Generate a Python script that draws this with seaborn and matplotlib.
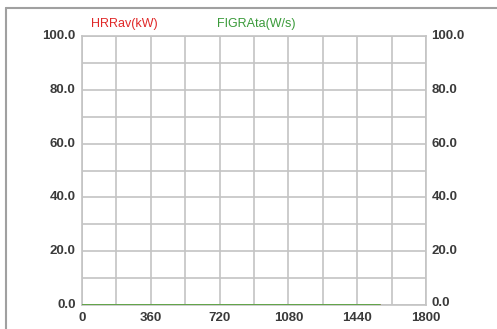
import matplotlib
matplotlib.use("Agg")
import matplotlib.pyplot as plt
import seaborn as sns
import pandas as pd
from matplotlib.lines import Line2D

sns.set_style("white")
plt.rcParams['font.family'] = ['Liberation Sans', 'DejaVu Sans']

# data
time_s = [0, 180, 360, 540, 720, 900, 1080, 1260, 1440, 1560]
hrr_kw = [0, 0, 0, 0, 0, 0, 0, 0, 0, 0]
figra_ws = [0, 0, 0, 0, 0, 0, 0, 0, 0, 0]
x_ticks = [0, 360, 720, 1080, 1440, 1800]
y_ticks = [0, 20, 40, 60, 80, 100]
y_labels = ["0.0", "20.0", "40.0", "60.0", "80.0", "100.0"]

df = pd.DataFrame({"t": time_s, "HRRav(kW)": hrr_kw, "FIGRAta(W/s)": figra_ws})

fig = plt.figure(figsize=(4.97, 3.29), dpi=100)
ax = fig.add_axes([82/497, 1-305/329, (426-82)/497, (305-36)/329])

grid_c = "#c4c4c4"
sns.lineplot(data=df, x="t", y="HRRav(kW)", ax=ax, color="#e02828", lw=1.2, zorder=3)
sns.lineplot(data=df, x="t", y="FIGRAta(W/s)", ax=ax, color="#4cb84c", lw=1.2, zorder=4)

ax.set_xlim(0, 1800)
ax.set_ylim(0, 100)
ax.set_xticks(range(0, 1801, 180), minor=False)
ax.set_yticks(range(0, 101, 10))
ax.grid(True, color=grid_c, lw=1.2)
ax.set_xticklabels([])
ax.set_yticklabels([])
ax.tick_params(length=0)
for s in ax.spines.values():
    s.set_color(grid_c)
    s.set_linewidth(1.2)
ax.set_xlabel("")
ax.set_ylabel("")

lab_c = "#3a3a3a"
fs = 9.5
for v, l in zip(y_ticks, y_labels):
    ax.annotate(l, xy=(0, v), xycoords=("axes fraction", "data"), xytext=(-4.5, 0),
                textcoords="offset points", ha="right", va="center", fontsize=fs,
                fontweight="bold", color=lab_c)
    dy = 1.5 if v == 0 else 0
    ax.annotate(l, xy=(1, v), xycoords=("axes fraction", "data"), xytext=(4, dy),
                textcoords="offset points", ha="left", va="center", fontsize=fs,
                fontweight="bold", color=lab_c)
for v in x_ticks:
    ax.annotate(str(v), xy=(v, 0), xycoords=("data", "axes fraction"), xytext=(0, -5),
                textcoords="offset points", ha="center", va="top", fontsize=fs,
                fontweight="bold", color=lab_c)

fig.text(124/497, 1-24/329, "HRRav(kW)", color="#e02828", fontsize=9, ha="center", va="center")
fig.text(256/497, 1-24/329, "FIGRAta(W/s)", color="#3a9a3a", fontsize=9, ha="center", va="center")

# outer frame
border_c = "#a0a0a0"
fig.add_artist(Line2D([6/497, 6/497], [0, 1-8/329], color=border_c, lw=1.5))
fig.add_artist(Line2D([6/497, 1], [1-8/329, 1-8/329], color=border_c, lw=1.5))

fig.savefig("out.png", dpi=100)
